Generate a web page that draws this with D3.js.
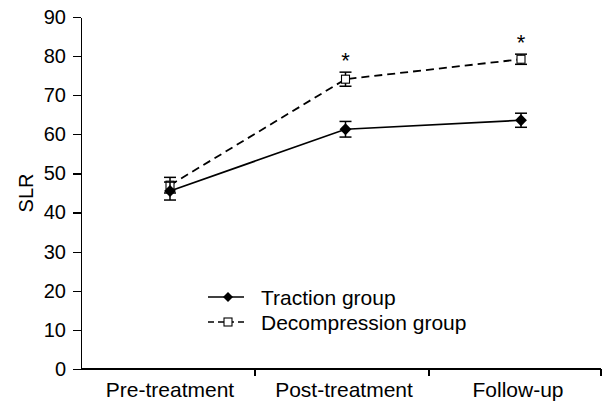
<!DOCTYPE html>
<meta charset="utf-8">
<style>
body { margin: 0; background: #fff; }
text { font-family: Arial, "Liberation Sans", sans-serif; fill: #000; }
.axis path, .axis line { stroke: #000; stroke-width: 1.3px; shape-rendering: crispEdges; }
</style>
<body>
<div id="chart"></div>
<script src="https://d3js.org/d3.v7.min.js"></script>
<script>
var categories = ["Pre-treatment", "Post-treatment", "Follow-up"];
var yTicks = [0, 10, 20, 30, 40, 50, 60, 70, 80, 90];

var tractionMean = [45.5, 61.3, 63.6];
var tractionErr = [2.3, 2.0, 1.8];
var decompMean = [47.0, 74.1, 79.2];
var decompErr = [2.0, 1.8, 1.3];
var significant = [false, true, true];

var width = 605, height = 406;

var svg = d3.select("#chart").append("svg")
    .attr("width", width)
    .attr("height", height);

var y = d3.scaleLinear().domain([0, 90]).range([369, 17]);
// band scale gives the separating ticks, point scale the marker positions
var xBand = d3.scaleBand().domain(categories).range([81, 603]);
var x = d3.scalePoint().domain(categories).range([170, 521]);

// y axis
var yAxis = svg.append("g")
    .attr("class", "axis")
    .attr("transform", "translate(81,0)")
    .call(d3.axisLeft(y).tickValues(yTicks).tickSize(8).tickSizeOuter(0).tickPadding(7));
yAxis.selectAll("text").style("font-size", "20px");

// x axis
var xAxis = svg.append("g").attr("class", "axis");
xAxis.append("line")
    .attr("x1", 81).attr("x2", 601)
    .attr("y1", y(0)).attr("y2", y(0));
xAxis.selectAll(".sep")
    .data(categories.slice(1).concat(["end"]))
  .enter().append("line")
    .attr("class", "sep")
    .attr("x1", function(d) { return d == "end" ? 601 : xBand(d); })
    .attr("x2", function(d) { return d == "end" ? 601 : xBand(d); })
    .attr("y1", y(0)).attr("y2", y(0) + 7);
xAxis.selectAll(".lab")
    .data(categories)
  .enter().append("text")
    .attr("class", "lab")
    .attr("x", function(d, i) { return x(d) - i * 1.5; })
    .attr("y", y(0) + 28)
    .attr("text-anchor", "middle")
    .style("font-size", "21px")
    .text(function(d) { return d; });

svg.append("text")
    .attr("transform", "translate(33," + y(45) + ") rotate(-90)")
    .attr("text-anchor", "middle")
    .style("font-size", "20px")
    .text("SLR");

function series(means, errs) {
  return categories.map(function(c, i) { return {cat: c, m: means[i], e: errs[i]}; });
}
var trac = series(tractionMean, tractionErr);
var deco = series(decompMean, decompErr);

var line = d3.line()
    .x(function(d) { return x(d.cat); })
    .y(function(d) { return y(d.m); });

function errorBars(data) {
  var g = svg.append("g").attr("stroke", "#000").attr("stroke-width", 1.5);
  data.forEach(function(d) {
    var cx = x(d.cat);
    g.append("line").attr("x1", cx).attr("x2", cx).attr("y1", y(d.m - d.e)).attr("y2", y(d.m + d.e));
    g.append("line").attr("x1", cx - 6).attr("x2", cx + 6).attr("y1", y(d.m - d.e)).attr("y2", y(d.m - d.e));
    g.append("line").attr("x1", cx - 6).attr("x2", cx + 6).attr("y1", y(d.m + d.e)).attr("y2", y(d.m + d.e));
  });
}

// decompression group
svg.append("path")
    .datum(deco)
    .attr("fill", "none")
    .attr("stroke", "#000")
    .attr("stroke-width", 1.8)
    .attr("stroke-dasharray", "8,5")
    .attr("d", line);
errorBars(deco);
svg.selectAll(".sq")
    .data(deco)
  .enter().append("rect")
    .attr("class", "sq")
    .attr("x", function(d) { return x(d.cat) - 4; })
    .attr("y", function(d) { return y(d.m) - 4; })
    .attr("width", 8).attr("height", 8)
    .attr("fill", "#fff").attr("stroke", "#000").attr("stroke-width", 1.1);

// traction group
svg.append("path")
    .datum(trac)
    .attr("fill", "none")
    .attr("stroke", "#000")
    .attr("stroke-width", 1.7)
    .attr("d", line);
errorBars(trac);
var diamond = d3.symbol().type(d3.symbolDiamond2).size(90);
svg.selectAll(".dm")
    .data(trac)
  .enter().append("path")
    .attr("class", "dm")
    .attr("d", diamond)
    .attr("transform", function(d) { return "translate(" + x(d.cat) + "," + y(d.m) + ")"; })
    .attr("fill", "#000");

// significance markers
svg.selectAll(".star")
    .data(deco.filter(function(d, i) { return significant[i]; }))
  .enter().append("text")
    .attr("class", "star")
    .attr("x", function(d) { return x(d.cat); })
    .attr("y", function(d) { return y(d.m + d.e) - 4; })
    .attr("text-anchor", "middle")
    .style("font-size", "22px")
    .text("*");

// legend
var legend = svg.append("g").attr("transform", "translate(208,297)");
legend.append("line").attr("x1", 0).attr("x2", 36).attr("y1", 0).attr("y2", 0)
    .attr("stroke", "#000").attr("stroke-width", 1.7);
legend.append("path").attr("d", d3.symbol().type(d3.symbolDiamond2).size(64))
    .attr("transform", "translate(20,0)").attr("fill", "#000");
legend.append("text").attr("x", 53).attr("y", 8).style("font-size", "21px").text("Traction group");
legend.append("line").attr("x1", 0).attr("x2", 36).attr("y1", 25).attr("y2", 25)
    .attr("stroke", "#000").attr("stroke-width", 1.7).attr("stroke-dasharray", "6,4");
legend.append("rect").attr("x", 16).attr("y", 21).attr("width", 8).attr("height", 8)
    .attr("fill", "#fff").attr("stroke", "#000").attr("stroke-width", 1.1);
legend.append("text").attr("x", 53).attr("y", 33).style("font-size", "21px").text("Decompression group");
</script>
</body>
